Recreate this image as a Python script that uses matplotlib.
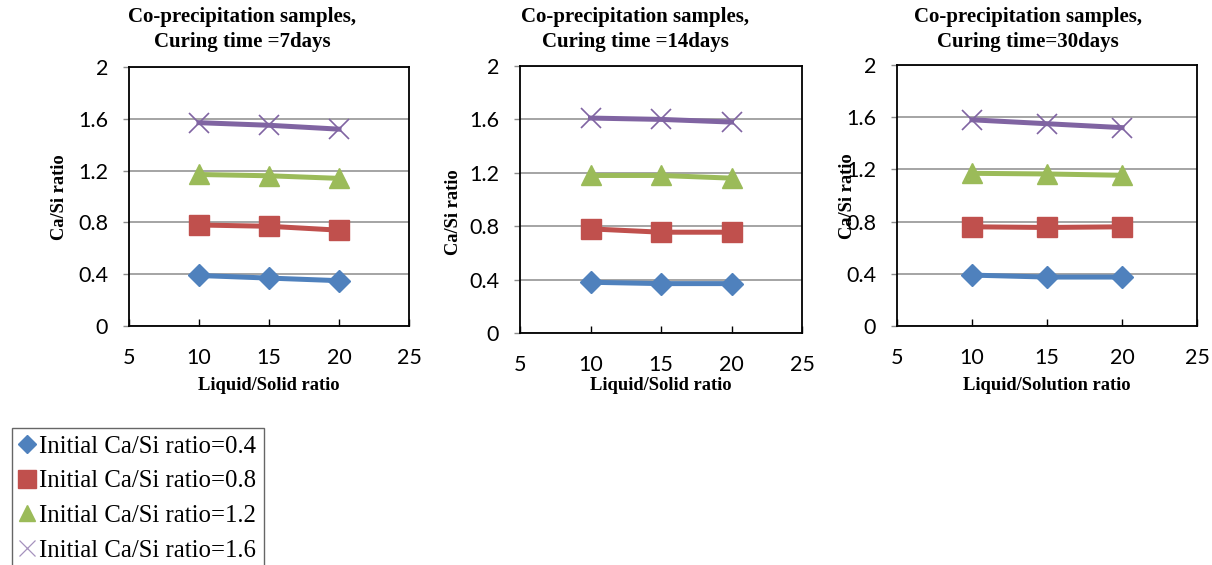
import matplotlib
matplotlib.use("Agg")
import matplotlib.pyplot as plt
from matplotlib.lines import Line2D

# ---- data ----
liquid_solid = [10, 15, 20]
series_labels = ["Initial Ca/Si ratio=0.4", "Initial Ca/Si ratio=0.8",
                 "Initial Ca/Si ratio=1.2", "Initial Ca/Si ratio=1.6"]
d7_04 = [0.39, 0.37, 0.35]
d7_08 = [0.78, 0.77, 0.74]
d7_12 = [1.17, 1.16, 1.14]
d7_16 = [1.57, 1.55, 1.52]
d14_04 = [0.38, 0.37, 0.37]
d14_08 = [0.78, 0.755, 0.755]
d14_12 = [1.18, 1.18, 1.16]
d14_16 = [1.61, 1.60, 1.58]
d30_04 = [0.39, 0.375, 0.375]
d30_08 = [0.76, 0.755, 0.76]
d30_12 = [1.17, 1.165, 1.155]
d30_16 = [1.58, 1.55, 1.52]
titles = ["Co-precipitation samples,\nCuring time =7days",
          "Co-precipitation samples,\nCuring time =14days",
          "Co-precipitation samples,\nCuring time=30days"]
xlabels = ["Liquid/Solid ratio", "Liquid/Solid ratio", "Liquid/Solution ratio"]
ylabel = "Ca/Si ratio"
xticks = [5, 10, 15, 20, 25]
yticks = [0, 0.4, 0.8, 1.2, 1.6, 2]
ytick_labels = ["0", "0.4", "0.8", "1.2", "1.6", "2"]

panels = [[d7_04, d7_08, d7_12, d7_16],
          [d14_04, d14_08, d14_12, d14_16],
          [d30_04, d30_08, d30_12, d30_16]]

colors = ["#4F81BD", "#C0504D", "#9BBB59", "#8064A2"]
markers = ["D", "s", "^", "x"]
msizes = [11, 14, 15, 15]

W, H = 1212, 565
fig = plt.figure(figsize=(W / 100, H / 100), dpi=100)

def fx(px):
    return px / W

def fy(py):
    return 1 - py / H

# axes rectangles in pixel coords: left, right, top, bottom
boxes = [(129, 409, 67, 326), (520, 802, 66, 333), (897, 1197, 65, 326)]
title_x = [242, 635, 1028]
xlabel_pos = [(269, 386), (661, 386), (1047, 386)]
ylabel_pos = [(60, 197), (453, 212), (847, 196)]

serif = "Liberation Serif"
tickfont = "Lato"

for i, (l, r, t, b) in enumerate(boxes):
    ax = fig.add_axes([fx(l), fy(b), fx(r) - fx(l), fy(t) - fy(b)])
    for j, ys in enumerate(panels[i]):
        if markers[j] == "x":
            ax.plot(liquid_solid, ys, color=colors[j], lw=3.6, marker="x",
                    ms=msizes[j], mew=1.2, zorder=3, clip_on=False)
        else:
            ax.plot(liquid_solid, ys, color=colors[j], lw=3.6, marker=markers[j],
                    ms=msizes[j], mec=colors[j], mfc=colors[j], zorder=3, clip_on=False)
    ax.set_xlim(5, 25)
    ax.set_ylim(0, 2)
    ax.set_xticks(xticks)
    ax.set_xticklabels([str(v) for v in xticks], fontfamily=tickfont, fontsize=15.5)
    ax.set_yticks(yticks)
    ax.set_yticklabels(ytick_labels, fontfamily=tickfont, fontsize=15.5)
    ax.yaxis.grid(True, color="#8C8C8C", lw=1.1)
    ax.set_axisbelow(True)
    ax.tick_params(axis="y", direction="out", length=4, width=1, color="#8C8C8C", pad=11)
    ax.tick_params(axis="x", direction="in", length=5, width=1, color="black", pad=16)
    for s in ax.spines.values():
        s.set_color("black")
        s.set_linewidth(1.3)
    fig.text(fx(title_x[i]), fy(29.5), titles[i], ha="center", va="center",
             fontfamily=serif, fontweight="bold", fontsize=15, linespacing=1.28)
    fig.text(fx(xlabel_pos[i][0]), fy(xlabel_pos[i][1]), xlabels[i], ha="center",
             va="center", fontfamily=serif, fontweight="bold", fontsize=13.3)
    fig.text(fx(ylabel_pos[i][0]), fy(ylabel_pos[i][1]), ylabel, ha="center",
             va="center", rotation=90, fontfamily=serif, fontweight="bold", fontsize=13.3)

handles = []
leg_ms = [9, 13, 12, 12]
for j in range(4):
    if markers[j] == "x":
        h = Line2D([], [], ls="none", marker="x", color=colors[j], ms=leg_ms[j], mew=0.9,
                   alpha=0.7)
    else:
        h = Line2D([], [], ls="none", marker=markers[j], color=colors[j], ms=leg_ms[j])
    handles.append(h)

leg = fig.legend(handles, series_labels, loc="upper left",
                 bbox_to_anchor=(fx(12), fy(428)), bbox_transform=fig.transFigure,
                 prop={"family": serif, "size": 17.8}, frameon=True, fancybox=False,
                 edgecolor="#404040", handlelength=0.6, handletextpad=0.2,
                 labelspacing=0.5, borderpad=0.3, borderaxespad=0)
leg.get_frame().set_linewidth(1.0)

fig.savefig("out.png", dpi=100)
